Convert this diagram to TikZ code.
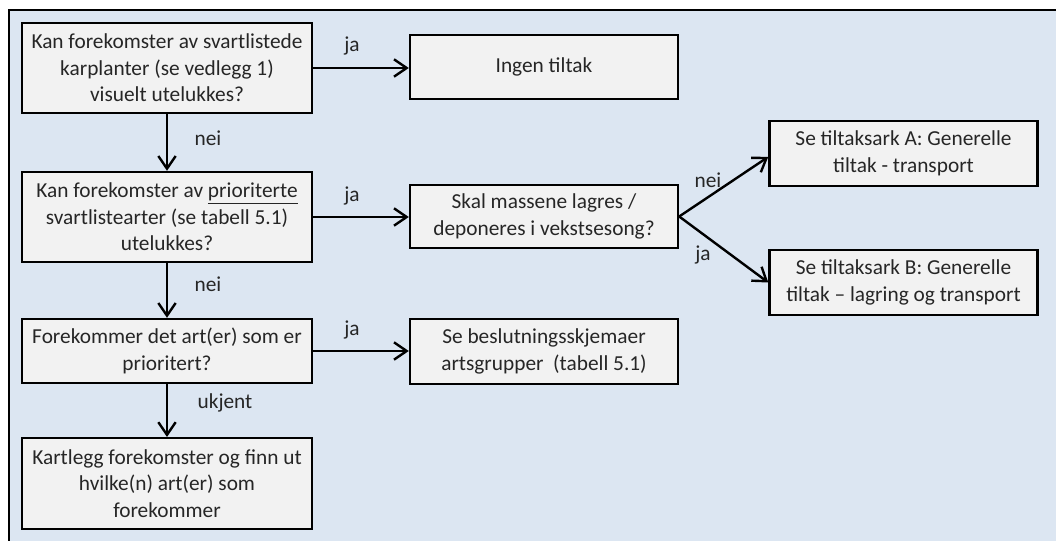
\documentclass[tikz,border=0pt]{standalone}
\usepackage{fontspec}
\setmainfont{Carlito}
\usetikzlibrary{arrows.meta}
\definecolor{bgblue}{HTML}{DCE6F2}
\definecolor{boxgray}{HTML}{F2F2F2}
\definecolor{txtgray}{HTML}{262626}
\begin{document}
\begin{tikzpicture}[x=0.75pt,y=-0.75pt,
    font=\fontsize{16pt}{20pt}\selectfont, text=txtgray,
    box/.style={draw=black,line width=1.8pt,fill=boxgray,align=center,inner sep=0pt,minimum width=217.5pt},
    rbox/.style={box,minimum width=201pt},
    arr/.style={-{Straight Barb[length=9.5pt,width=13pt]},line width=1.8pt},
    lbl/.style={inner sep=0pt}]
  \clip (0,0) rectangle (1056,541);
  \draw[fill=bgblue,line width=1.8pt] (9,10) rectangle (1080,580);
  % left column
  \node[box,minimum height=67.5pt] (q1) at (167,68) {Kan forekomster av svartlistede\\karplanter (se vedlegg 1)\\visuelt utelukkes?};
  \node[box,minimum height=67.5pt] (q2) at (167,217) {Kan forekomster av \underline{prioriterte}\\svartlistearter (se tabell 5.1)\\utelukkes?};
  \node[box,minimum height=48pt] (q3) at (167,351) {Forekommer det art(er) som er\\prioritert?};
  \node[box,minimum height=68pt] (kart) at (167,483.5) {Kartlegg forekomster og finn ut\\hvilke(n) art(er) som\\forekommer};
  % middle column
  \node[rbox,minimum height=48pt] (ingen) at (544,67) {Ingen tiltak};
  \node[rbox,minimum height=47.5pt] (skal) at (544,216.5) {Skal massene lagres /\\deponeres i vekstsesong?};
  \node[rbox,minimum height=48.5pt] (besl) at (544,351.5) {Se beslutningsskjemaer\\artsgrupper~ (tabell 5.1)};
  % right column
  \node[rbox,minimum height=48.75pt] (tA) at (903.5,153.5) {Se tiltaksark A: Generelle\\tiltak - transport};
  \node[rbox,minimum height=48.75pt] (tB) at (903.5,282.5) {Se tiltaksark B: Generelle\\tiltak -- lagring og transport};
  % connectors
  \draw[arr] (q1.east) -- (q1.east -| ingen.west);
  \draw[arr] (q2.east) -- (q2.east -| skal.west);
  \draw[arr] (q3.east) -- (q3.east -| besl.west);
  \draw[arr] (q1.south) -- (q2.north);
  \draw[arr] (q2.south) -- (q3.north);
  \draw[arr] (q3.south) -- (kart.north);
  \draw[arr] (skal.east) -- ([yshift=-2.5pt]tA.west);
  \draw[arr] (skal.east) -- (tB.west);
  % labels
  \node[lbl] (ja1) at (352,46) {ja};
  \node[lbl] (ja2) at (352,196) {ja};
  \node[lbl] (ja3) at (352,330) {ja};
  \node[lbl] (nei1) at (208,138) {nei};
  \node[lbl] (nei2) at (208,284) {nei};
  \node[lbl] (ukjent) at (225,403) {ukjent};
  \node[lbl] (nei3) at (708,180) {nei};
  \node[lbl] (ja4) at (703,255) {ja};
\end{tikzpicture}
\end{document}
